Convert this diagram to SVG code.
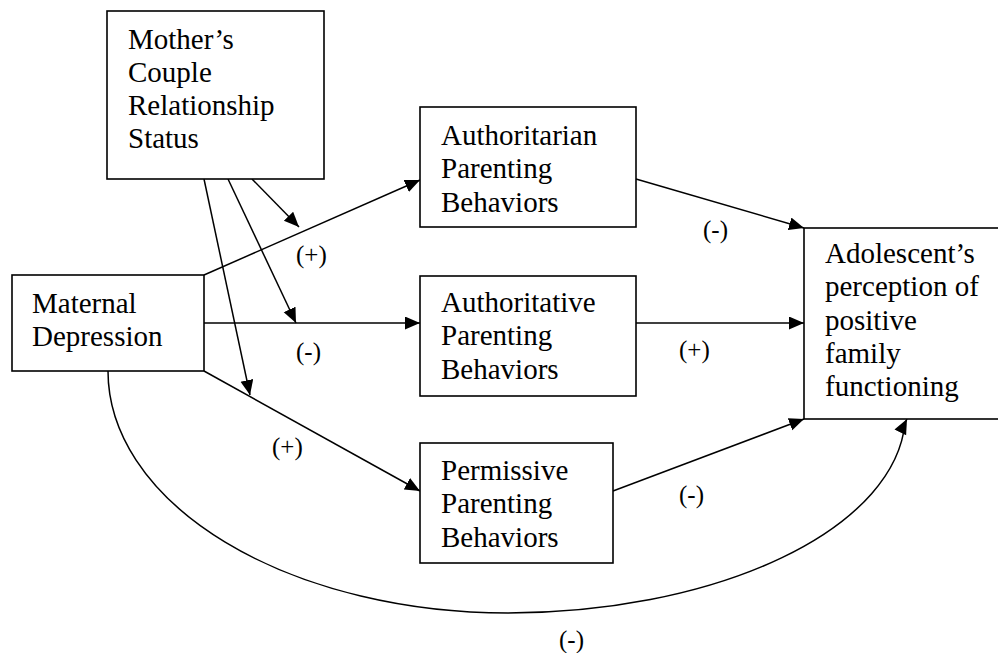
<svg xmlns="http://www.w3.org/2000/svg" width="998" height="653" viewBox="0 0 998 653">
<defs>
<marker id="ah" markerUnits="userSpaceOnUse" markerWidth="16" markerHeight="14" refX="15" refY="6.5" orient="auto">
<path d="M0,0 L15,6.5 L0,13 z" fill="#000"/>
</marker>
<style>
.box{fill:#fff;stroke:#000;stroke-width:1.6}
.t{font-family:"Liberation Serif","Times New Roman",serif;font-size:29px;fill:#000}
.l{font-family:"Liberation Serif","Times New Roman",serif;font-size:25px;fill:#000}
.c{fill:none;stroke:#000;stroke-width:1.5;marker-end:url(#ah)}
</style>
</defs>
<rect width="998" height="653" fill="#fff"/>
<g id="connectors">
<path class="c" d="M204,275 L420,180"/>
<path class="c" d="M204,323 L420,323"/>
<path class="c" d="M204,371 L420,491"/>
<path class="c" d="M636,179 L804,228"/>
<path class="c" d="M636,323 L804,323"/>
<path class="c" d="M613,491 L804,419"/>
<path class="c" d="M108,371 A400,242 0 0 0 508,613 A399,200 0 0 0 905,423 L907,419"/>
<path class="c" d="M252,179 L299,227"/>
<path class="c" d="M228,179 L296,323"/>
<path class="c" d="M204,179 L250,395"/>
</g>
<g id="mother">
<rect class="box" x="107" y="11" width="217" height="168"/>
<text class="t" x="128" y="49">Mother’s</text>
<text class="t" x="128" y="82">Couple</text>
<text class="t" x="128" y="115">Relationship</text>
<text class="t" x="128" y="148">Status</text>
</g>
<g id="maternal">
<rect class="box" x="12" y="275" width="192" height="96"/>
<text class="t" x="32" y="313">Maternal</text>
<text class="t" x="32" y="346">Depression</text>
</g>
<g id="authoritarian">
<rect class="box" x="420" y="107" width="216" height="120"/>
<text class="t" x="441" y="145">Authoritarian</text>
<text class="t" x="441" y="178">Parenting</text>
<text class="t" x="441" y="212">Behaviors</text>
</g>
<g id="authoritative">
<rect class="box" x="420" y="276" width="216" height="120"/>
<text class="t" x="441" y="312">Authoritative</text>
<text class="t" x="441" y="345">Parenting</text>
<text class="t" x="441" y="379">Behaviors</text>
</g>
<g id="permissive">
<rect class="box" x="420" y="443" width="193" height="120"/>
<text class="t" x="441" y="480">Permissive</text>
<text class="t" x="441" y="513">Parenting</text>
<text class="t" x="441" y="547">Behaviors</text>
</g>
<g id="adolescent">
<rect class="box" x="804" y="228" width="200" height="191"/>
<text class="t" x="825" y="263">Adolescent’s</text>
<text class="t" x="825" y="296">perception of</text>
<text class="t" x="825" y="330">positive</text>
<text class="t" x="825" y="363">family</text>
<text class="t" x="825" y="396">functioning</text>
</g>
<g id="labels">
<text class="l" x="296" y="263">(+)</text>
<text class="l" x="296" y="360">(-)</text>
<text class="l" x="272" y="455">(+)</text>
<text class="l" x="703" y="238">(-)</text>
<text class="l" x="679" y="358">(+)</text>
<text class="l" x="679" y="503">(-)</text>
<text class="l" x="559" y="648">(-)</text>
</g>
</svg>
